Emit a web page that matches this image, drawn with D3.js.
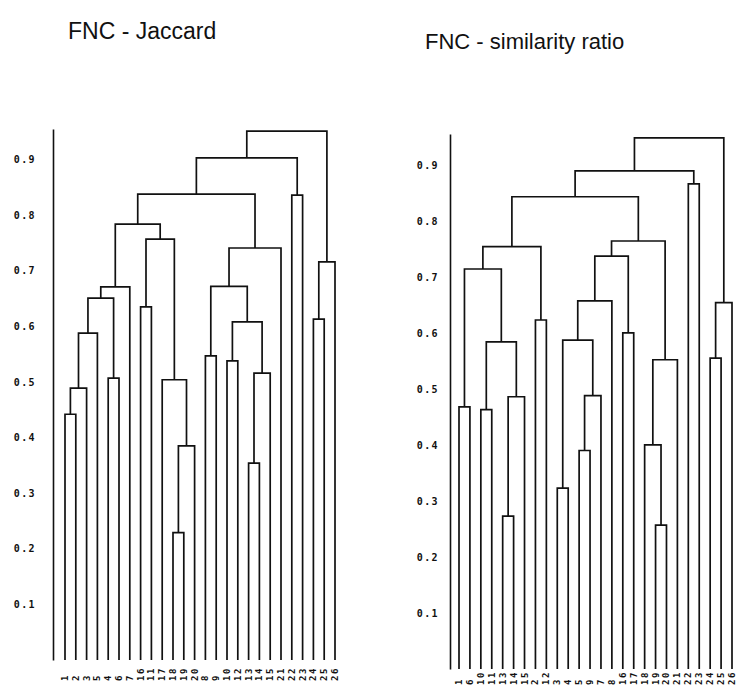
<!DOCTYPE html>
<html><head><meta charset="utf-8">
<script src="https://cdn.jsdelivr.net/npm/d3@7"></script>
<style>
body{margin:0;background:#fff;}
svg{display:block;}
.title{font-family:"Liberation Sans",Arial,sans-serif;fill:#111;}
.tick text{font-family:"DejaVu Sans Mono",monospace;font-weight:bold;fill:#111;}
.leaf{font-family:"DejaVu Sans Mono",monospace;font-weight:bold;fill:#111;}
</style></head>
<body>
<svg id="c" width="736" height="687"></svg>
<script>
// ---- data ----
const titles = ["FNC - Jaccard", "FNC - similarity ratio"];
const tickValues = [0.1, 0.2, 0.3, 0.4, 0.5, 0.6, 0.7, 0.8, 0.9];

// leaf labels in display order
const jaccardLeaves = ["1","2","3","5","4","6","7","16","11","17","18","19","20","8","9","10","12","13","14","15","21","22","23","24","25","26"];
const simratioLeaves = ["1","6","10","11","13","14","15","2","12","3","4","5","9","7","8","16","17","18","19","20","21","22","23","24","25","26"];

// merges: [childA, childB, height]; ids 0..25 are leaves, 26+k is the k-th merge
const jaccardMerges = [
  [0,1,0.442],[26,2,0.489],[27,3,0.588],[4,5,0.507],[28,29,0.651],
  [30,6,0.671],[7,8,0.635],[10,11,0.229],[33,12,0.385],[9,34,0.504],
  [32,35,0.757],[31,36,0.784],[13,14,0.547],[15,16,0.538],[17,18,0.354],
  [40,19,0.516],[39,41,0.608],[38,42,0.672],[43,20,0.741],[37,44,0.838],
  [21,22,0.836],[45,46,0.903],[23,24,0.613],[48,25,0.716],[47,49,0.951]
];
const simratioMerges = [
  [0,1,0.468],[2,3,0.463],[4,5,0.273],[28,6,0.486],[27,29,0.584],
  [26,30,0.714],[7,8,0.623],[31,32,0.754],[9,10,0.323],[11,12,0.390],
  [35,13,0.488],[34,36,0.587],[37,14,0.657],[15,16,0.600],[38,39,0.737],
  [18,19,0.257],[17,41,0.400],[42,20,0.552],[40,43,0.764],[33,44,0.843],
  [21,22,0.866],[45,46,0.889],[23,24,0.555],[48,25,0.654],[47,49,0.948]
];

const svg = d3.select("#c");

function buildTree(leaves, merges){
  const nodes = leaves.map((l,i)=>({name:l, h:0, idx:i}));
  merges.forEach(m=>{ nodes.push({h:m[2], children:[nodes[m[0]], nodes[m[1]]]}); });
  return d3.hierarchy(nodes[nodes.length-1]);
}

function drawDendro(cfg){
  const g = svg.append("g");
  const x = d3.scalePoint().domain(cfg.leaves).range(cfg.xRange);
  const y = d3.scaleLinear().domain([0, cfg.top]).range(cfg.yRange);
  const root = buildTree(cfg.leaves, cfg.merges);
  root.eachAfter(n=>{
    n.px = n.children ? d3.mean(n.children, c=>c.px) : x(n.data.name);
  });
  // axis
  const ax = g.append("g").attr("transform", `translate(${cfg.axisX},0)`)
    .call(d3.axisLeft(y).tickValues(tickValues).tickSize(0).tickPadding(cfg.pad).tickFormat(d3.format(".1f")));
  ax.select(".domain").attr("stroke","#111").attr("stroke-width",1.6);
  ax.selectAll(".tick text").attr("font-size",10).attr("letter-spacing","1.4px");
  // links
  const internals = root.descendants().filter(n=>n.children);
  g.selectAll("path.link").data(internals).enter().append("path")
    .attr("fill","none").attr("stroke","#111").attr("stroke-width",1.7)
    .attr("d", n=>{
      const [a,b] = n.children;
      return `M${a.px},${y(a.data.h)}V${y(n.data.h)}H${b.px}V${y(b.data.h)}`;
    });
  // leaf labels
  g.selectAll("text.leaf").data(root.leaves()).enter().append("text")
    .attr("class","leaf").attr("font-size",9).attr("letter-spacing","1.5px")
    .attr("transform", n=>`translate(${n.px+3},${cfg.labelY}) rotate(-90)`)
    .text(n=>n.data.name);
  // title
  g.append("text").attr("class","title").attr("x",cfg.titleX).attr("y",cfg.titleY)
    .attr("font-size",cfg.titleSize).text(cfg.title);
}

drawDendro({leaves:jaccardLeaves, merges:jaccardMerges, xRange:[65,335], yRange:[660,129], top:0.955,
  axisX:53, pad:17, labelY:681, title:titles[0], titleX:68, titleY:39, titleSize:23});
drawDendro({leaves:simratioLeaves, merges:simratioMerges, xRange:[459,732], yRange:[669,134], top:0.955,
  axisX:450, pad:11, labelY:685, title:titles[1], titleX:425, titleY:49, titleSize:22});
</script>
</body></html>
